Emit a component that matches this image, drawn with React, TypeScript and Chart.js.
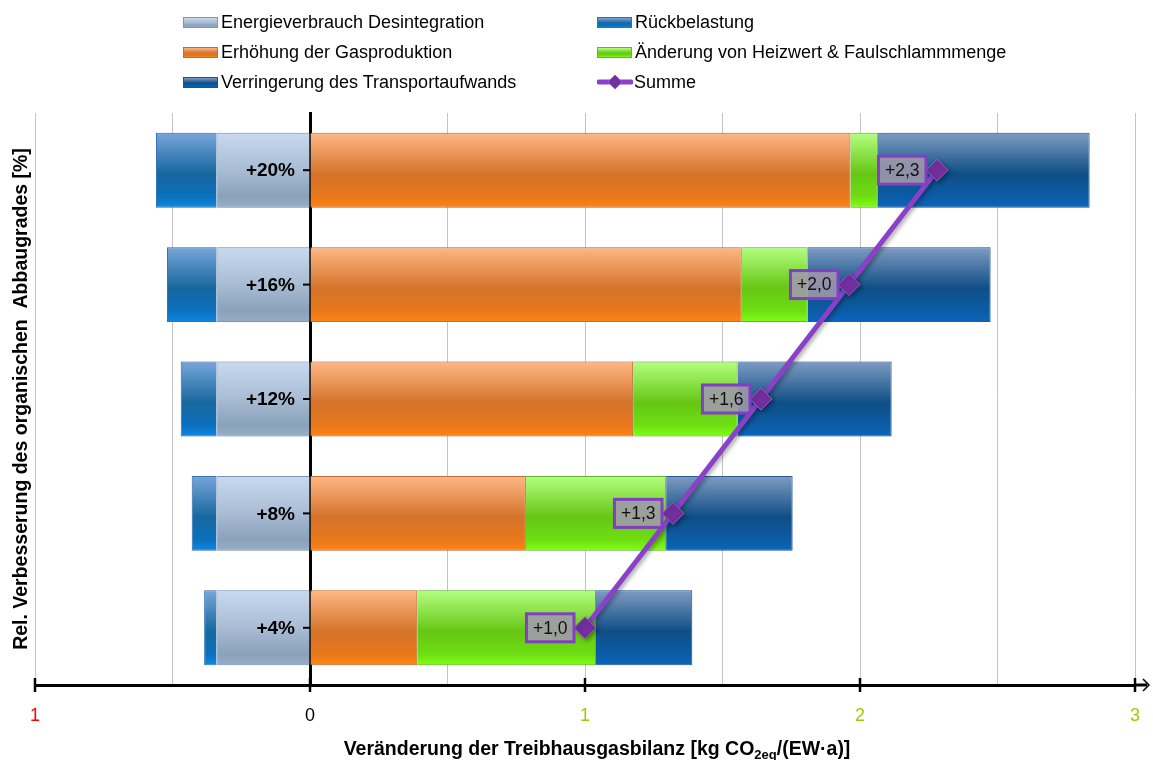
import React, { useEffect, useRef } from 'react';
import { Chart, registerables } from 'chart.js';

Chart.register(...registerables);

// ---------- data ----------
const categories = ['+20%', '+16%', '+12%', '+8%', '+4%'];
const energieverbrauch = [-0.34, -0.34, -0.34, -0.34, -0.34];
const rueckbelastung = [-0.22, -0.18, -0.13, -0.09, -0.045];
const gasproduktion = [1.965, 1.57, 1.175, 0.785, 0.39];
const heizwert = [0.1, 0.24, 0.38, 0.51, 0.65];
const transport = [0.77, 0.665, 0.56, 0.46, 0.35];
const summe = [2.28, 1.96, 1.64, 1.32, 1.0];
const xTickValues = [-1, 0, 1, 2, 3];

const seriesNames = [
  'Energieverbrauch Desintegration',
  'Rückbelastung',
  'Erhöhung der Gasproduktion',
  'Änderung von Heizwert & Faulschlammmenge',
  'Verringerung des Transportaufwands',
  'Summe',
];

const xTitleMain = 'Veränderung der Treibhausgasbilanz [kg CO';
const xTitleSub = '2eq';
const xTitleEnd = '/(EW·a)]';
const yTitle = 'Rel. Verbesserung des organischen  Abbaugrades [%]';

// ---------- styles ----------
const FONT = '"Liberation Sans", Arial, sans-serif';
const BAR_PCT = 0.655;

type Stop = [number, string];
const gradEnergie: Stop[] = [[0, '#c8daef'], [0.5, '#a8bcd3'], [0.85, '#8aa1bb'], [1, '#97aec8']];
const gradRueck: Stop[] = [[0, '#78a6d9'], [0.55, '#17679f'], [0.85, '#0b70bd'], [1, '#0d88e2']];
const gradGas: Stop[] = [[0, '#ffb886'], [0.55, '#d4732a'], [0.85, '#e8781a'], [1, '#ff8414']];
const gradHeiz: Stop[] = [[0, '#b4ff80'], [0.55, '#66c614'], [0.85, '#6ede12'], [1, '#80ff12']];
const gradTrans: Stop[] = [[0, '#7f9cc2'], [0.55, '#0f4e86'], [0.85, '#0b5ca6'], [1, '#0a66bc']];

const borderEnergie = '#7e96b3';
const borderRueck = '#2b70b2';
const borderGas = '#cc6a1e';
const borderHeiz = '#5cbd12';
const borderTrans = '#1d5290';
const lineColor = '#8a40c8';
const pointColor = '#72309e';
const red = '#ff0000';
const green = '#9acd00';

function cssGrad(stops: Stop[]) {
  return `linear-gradient(to bottom, ${stops.map(([o, c]) => `${c} ${o * 100}%`).join(', ')})`;
}

function barGradient(stops: Stop[], fallback: string) {
  return (c: any) => {
    const chart = c.chart;
    const y = chart.scales && chart.scales.y;
    if (!chart.chartArea || !y || c.dataIndex === undefined) return fallback;
    const yc = y.getPixelForValue(c.dataIndex);
    const h = (y.height / categories.length) * BAR_PCT;
    const g = chart.ctx.createLinearGradient(0, yc - h / 2, 0, yc + h / 2);
    stops.forEach(([o, col]) => g.addColorStop(o, col));
    return g;
  };
}

const fmt = (v: number) => '+' + v.toFixed(1).replace('.', ',');

const decorPlugin = {
  id: 'decor',
  beforeDatasetDraw(chart: any, args: any) {
    const ctx = chart.ctx;
    ctx.save();
    if (args.index === 5) {
      ctx.shadowColor = 'rgba(0,0,0,0.35)';
      ctx.shadowBlur = 4;
      ctx.shadowOffsetX = 2;
      ctx.shadowOffsetY = 2;
    } else {
      ctx.shadowColor = 'rgba(110,140,190,0.35)';
      ctx.shadowBlur = 6;
    }
  },
  afterDatasetDraw(chart: any) {
    chart.ctx.restore();
  },
  afterDatasetsDraw(chart: any) {
    const ctx = chart.ctx;
    const meta = chart.getDatasetMeta(5);
    ctx.save();
    ctx.font = `17.5px ${FONT}`;
    meta.data.forEach((pt: any, i: number) => {
      const txt = fmt(summe[i]);
      const w = ctx.measureText(txt).width + 13;
      const h = 28;
      const right = pt.x - 11;
      const left = right - w;
      const top = pt.y - h / 2;
      ctx.fillStyle = 'rgba(162,154,172,0.88)';
      ctx.fillRect(left, top, w, h);
      ctx.strokeStyle = '#8040c0';
      ctx.lineWidth = 3;
      ctx.strokeRect(left, top, w, h);
      ctx.fillStyle = '#111';
      ctx.textAlign = 'center';
      ctx.textBaseline = 'middle';
      ctx.fillText(txt, left + w / 2, pt.y + 1);
    });
    ctx.restore();
  },
  afterDraw(chart: any) {
    const { ctx, chartArea, scales } = chart;
    const x = scales.x;
    const y = scales.y;
    const b = chartArea.bottom;
    ctx.save();

    // category labels and tick dashes next to the zero axis
    const x0 = x.getPixelForValue(0);
    ctx.fillStyle = '#000';
    ctx.strokeStyle = '#000';
    ctx.lineWidth = 2;
    ctx.font = `bold 19px ${FONT}`;
    ctx.textAlign = 'right';
    ctx.textBaseline = 'middle';
    categories.forEach((lab, i) => {
      const py = y.getPixelForValue(i);
      ctx.fillText(lab, x0 - 15, py + 1);
      ctx.beginPath();
      ctx.moveTo(x0 - 7, py);
      ctx.lineTo(x0, py);
      ctx.stroke();
    });

    ctx.lineWidth = 2.5;
    xTickValues.forEach((v) => {
      const px = x.getPixelForValue(v);
      ctx.beginPath();
      ctx.moveTo(px, b - 7);
      ctx.lineTo(px, b + 7);
      ctx.stroke();
    });
    ctx.lineWidth = 3;
    ctx.beginPath();
    ctx.moveTo(chartArea.right, b);
    ctx.lineTo(chartArea.right + 12, b);
    ctx.stroke();
    ctx.lineWidth = 1.5;
    ctx.beginPath();
    ctx.moveTo(chartArea.right + 8, b - 6);
    ctx.lineTo(chartArea.right + 14, b);
    ctx.lineTo(chartArea.right + 8, b + 6);
    ctx.stroke();

    // x title with subscript
    ctx.fillStyle = '#000';
    ctx.textBaseline = 'alphabetic';
    ctx.textAlign = 'left';
    const mainFont = `bold 19.5px ${FONT}`;
    const subFont = `bold 13px ${FONT}`;
    ctx.font = mainFont;
    const w1 = ctx.measureText(xTitleMain).width;
    const w3 = ctx.measureText(xTitleEnd).width;
    ctx.font = subFont;
    const w2 = ctx.measureText(xTitleSub).width;
    const total = w1 + w2 + w3;
    let sx = 597 - total / 2;
    const base = 755;
    ctx.font = mainFont;
    ctx.fillText(xTitleMain, sx, base);
    sx += w1;
    ctx.font = subFont;
    ctx.fillText(xTitleSub, sx, base + 4);
    sx += w2;
    ctx.font = mainFont;
    ctx.fillText(xTitleEnd, sx, base);

    // y title
    ctx.translate(22, (chartArea.top + chartArea.bottom) / 2);
    ctx.rotate(-Math.PI / 2);
    ctx.textAlign = 'center';
    ctx.textBaseline = 'middle';
    ctx.font = `bold 19.5px ${FONT}`;
    ctx.fillText(yTitle, 0, 0);
    ctx.restore();
  },
};

function LegendSwatch({ stops, border }: { stops: Stop[]; border: string }) {
  return (
    <div
      style={{
        width: 33,
        height: 9,
        border: `1px solid ${border}`,
        background: cssGrad(stops),
        marginRight: 3,
        flex: 'none',
      }}
    />
  );
}

function LineSwatch() {
  return (
    <svg width={36} height={18} style={{ marginRight: 1, flex: 'none' }}>
      <line x1={2} y1={9} x2={34} y2={9} stroke={lineColor} strokeWidth={5} strokeLinecap="round" />
      <polygon points="18,2 25,9 18,16 11,9" fill={pointColor} stroke="#9a5ad0" strokeWidth={1} />
    </svg>
  );
}

export default function App() {
  const ref = useRef<HTMLCanvasElement | null>(null);

  useEffect(() => {
    document.body.style.margin = '0';
    const canvas = ref.current;
    if (!canvas) return;
    const chart = new Chart(canvas, {
      type: 'bar',
      data: {
        labels: categories,
        datasets: [
          {
            label: seriesNames[0],
            data: energieverbrauch,
            backgroundColor: barGradient(gradEnergie, '#a7bbd2'),
            borderColor: borderEnergie,
            borderWidth: 1,
          },
          {
            label: seriesNames[1],
            data: rueckbelastung,
            backgroundColor: barGradient(gradRueck, '#1f6fb0'),
            borderColor: borderRueck,
            borderWidth: 1,
          },
          {
            label: seriesNames[2],
            data: gasproduktion,
            backgroundColor: barGradient(gradGas, '#e07a2a'),
            borderColor: borderGas,
            borderWidth: 1,
          },
          {
            label: seriesNames[3],
            data: heizwert,
            backgroundColor: barGradient(gradHeiz, '#70d018'),
            borderColor: borderHeiz,
            borderWidth: 1,
          },
          {
            label: seriesNames[4],
            data: transport,
            backgroundColor: barGradient(gradTrans, '#14508a'),
            borderColor: borderTrans,
            borderWidth: 1,
          },
          {
            type: 'line',
            label: seriesNames[5],
            data: summe,
            stack: 'summe',
            order: -1,
            borderColor: lineColor,
            borderWidth: 5,
            fill: false,
            tension: 0,
            pointStyle: 'rectRot',
            pointRadius: 11,
            pointBackgroundColor: pointColor,
            pointBorderColor: '#9a5ad0',
            pointBorderWidth: 1,
          } as any,
        ],
      },
      options: {
        indexAxis: 'y',
        responsive: false,
        animation: false,
        events: [],
        datasets: {
          bar: { barPercentage: BAR_PCT, categoryPercentage: 1 },
        },
        layout: { padding: { top: 113, left: 35, right: 18, bottom: 0 } },
        plugins: {
          legend: { display: false },
          tooltip: { enabled: false },
          title: { display: false },
        },
        scales: {
          x: {
            type: 'linear',
            stacked: true,
            min: -1,
            max: 3,
            afterFit: (s: any) => {
              s.height = 75;
              s.paddingLeft = 0;
              s.paddingRight = 0;
            },
            ticks: {
              stepSize: 0.5,
              autoSkip: false,
              maxRotation: 0,
              padding: 20,
              font: { family: FONT, size: 18 },
              color: (c: any) => {
                const v = c.tick && c.tick.value;
                return v < 0 ? red : v === 0 ? '#000' : green;
              },
              callback: (v: any) => (Number.isInteger(Number(v)) ? String(Math.abs(Number(v))) : ''),
            },
            grid: { color: '#c3c3c3', lineWidth: 1, drawTicks: false },
            border: { color: '#000', width: 3 },
          },
          y: {
            type: 'category',
            stacked: true,
            position: { x: 0 } as any,
            z: 1,
            ticks: { display: false },
            grid: { display: false },
            border: { display: true, color: '#000', width: 3 },
          },
        },
      } as any,
      plugins: [decorPlugin as any],
    });
    return () => chart.destroy();
  }, []);

  const legendItem = (i: number, left: number, cy: number, swatch: React.ReactNode) => (
    <div
      key={i}
      style={{
        position: 'absolute',
        left,
        top: cy - 12,
        height: 24,
        display: 'flex',
        alignItems: 'center',
        fontFamily: FONT,
        fontSize: 18,
        color: '#000',
        whiteSpace: 'nowrap',
      }}
    >
      {swatch}
      <span>{seriesNames[i]}</span>
    </div>
  );

  return (
    <div style={{ position: 'absolute', left: 0, top: 0, width: 1153, height: 760, background: '#fff' }}>
      <canvas ref={ref} width={1153} height={760} style={{ width: 1153, height: 760, display: 'block' }} />
      {legendItem(0, 183, 22, <LegendSwatch stops={gradEnergie} border={borderEnergie} />)}
      {legendItem(2, 183, 52, <LegendSwatch stops={gradGas} border={borderGas} />)}
      {legendItem(4, 183, 82, <LegendSwatch stops={gradTrans} border={borderTrans} />)}
      {legendItem(1, 597, 22, <LegendSwatch stops={gradRueck} border={borderRueck} />)}
      {legendItem(3, 597, 52, <LegendSwatch stops={gradHeiz} border={borderHeiz} />)}
      {legendItem(5, 597, 82, <LineSwatch />)}
    </div>
  );
}
